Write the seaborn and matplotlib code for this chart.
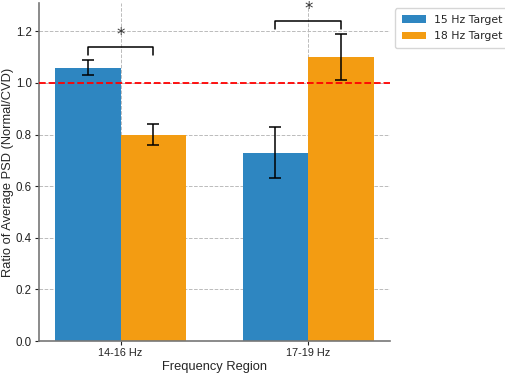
import pandas as pd
import matplotlib
matplotlib.use("Agg")
import matplotlib.pyplot as plt
import seaborn as sns

# Data
regions = ["14-16 Hz", "17-19 Hz"]
targets = ["15 Hz Target", "18 Hz Target"]
ratio_15 = [1.06, 0.73]
ratio_18 = [0.80, 1.10]
err_15 = [0.03, 0.10]
err_18 = [0.04, 0.09]
colors = ["#2E86C1", "#F39C12"]

df = pd.DataFrame({
    "Region": regions * 2,
    "Target": [targets[0]] * 2 + [targets[1]] * 2,
    "Ratio": ratio_15 + ratio_18,
    "Err": err_15 + err_18,
})

sns.set_style("ticks")
plt.rcParams["font.family"] = ["Liberation Sans", "DejaVu Sans"]

fig, ax = plt.subplots(figsize=(5.05, 3.74), dpi=100)
fig.subplots_adjust(left=0.077, right=0.772, bottom=0.088, top=0.992)
sns.barplot(data=df, x="Region", y="Ratio", hue="Target", palette=colors,
            width=0.7, saturation=1, errorbar=None, linewidth=0, ax=ax,
            legend=True, zorder=2)

# error bars at bar centres (bars come in hue order)
bars = [p for p in ax.patches if p.get_height() > 0][:len(df)]
centers = []
for p, (_, row) in zip(bars, df.iterrows()):
    cx = p.get_x() + p.get_width() / 2
    centers.append(cx)
    ax.errorbar(cx, row["Ratio"], yerr=row["Err"], color="black", capsize=4,
                elinewidth=1.1, capthick=1.1, zorder=3)

# significance brackets
for i in range(len(regions)):
    x1, x2 = centers[i], centers[i + len(regions)]
    top = max(ratio_15[i] + err_15[i], ratio_18[i] + err_18[i]) + 0.05
    ax.plot([x1, x1, x2, x2], [top - 0.03, top, top, top - 0.03],
            color="black", lw=1.1, zorder=3)
    ax.text((x1 + x2) / 2, top + 0.01, "*", ha="center", va="bottom",
            fontsize=12, family="DejaVu Sans", color="#333333")

ax.axhline(1.0, color="red", linestyle="--", linewidth=1.3, zorder=3)

ax.set_ylim(0, 1.31)
ax.set_xlabel("Frequency Region", fontsize=9.3, labelpad=2)
ax.set_ylabel("Ratio of Average PSD (Normal/CVD)", fontsize=9.3)
ax.yaxis.set_label_coords(-0.072, 0.5)
ax.tick_params(axis="x", labelsize=7.8, colors="#222222", length=3, width=0.8, pad=2)
ax.tick_params(axis="y", labelsize=8.3, colors="#222222", length=3, width=0.8, pad=2)
ax.grid(True, linestyle="--", color="#bbbbbb", linewidth=0.7, zorder=0)
ax.set_axisbelow(True)
sns.despine(ax=ax)
for s in ["left", "bottom"]:
    ax.spines[s].set_color("#777777")
    ax.spines[s].set_linewidth(1.2)

ax.legend(loc="upper left", bbox_to_anchor=(1.0, 1.0), borderpad=0.6,
          labelspacing=0.6, handlelength=2.2,
          prop={"family": "DejaVu Sans", "size": 7.8}, frameon=True)

plt.savefig("out.png", dpi=100)
